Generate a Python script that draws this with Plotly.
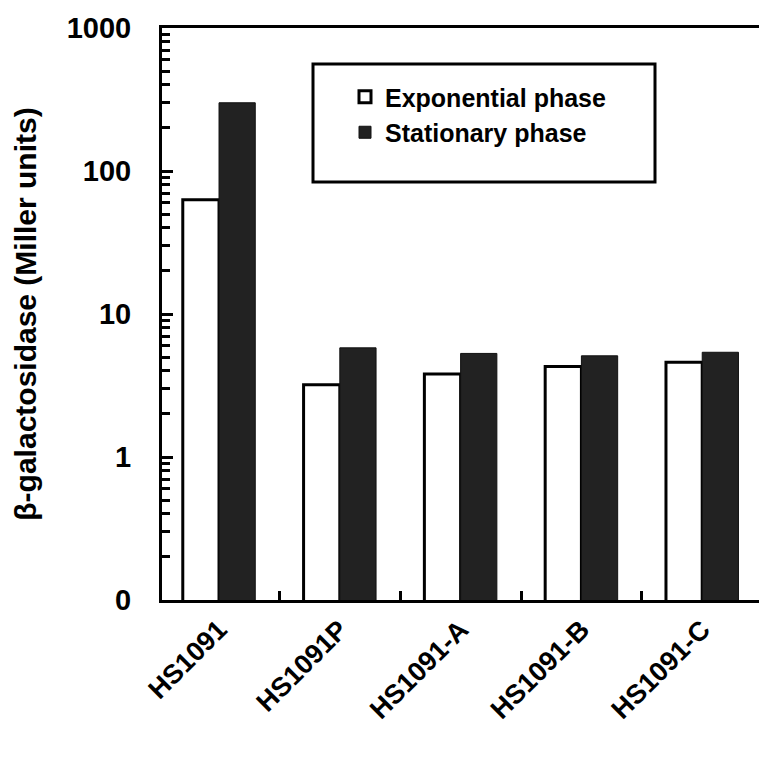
import plotly.graph_objects as go

categories = ["HS1091", "HS1091P", "HS1091-A", "HS1091-B", "HS1091-C"]
exponential = [63, 3.2, 3.8, 4.3, 4.6]
stationary = [300, 5.8, 5.3, 5.1, 5.4]
series_names = ["Exponential phase", "Stationary phase"]
y_tick_vals = [0.1, 1, 10, 100, 1000]
y_tick_text = ["0", "1", "10", "100", "1000"]
minor_multipliers = [2, 3, 4, 5, 6, 7, 8, 9]
decades = [0.1, 1, 10, 100]

FONT = "Arial, 'Liberation Sans', sans-serif"

minor_vals = [d * m for d in decades for m in minor_multipliers]

fig = go.Figure()
fig.add_trace(go.Bar(
    x=categories, y=exponential, name=series_names[0],
    marker=dict(color="white", line=dict(color="black", width=3)),
))
fig.add_trace(go.Bar(
    x=categories, y=stationary, name=series_names[1],
    marker=dict(color="#222222", line=dict(color="#111111", width=1)),
))

W, H = 759, 762
L, R, T, B = 162, 0, 28, 162
pw = W - L - R
ph = H - T - B

def px_x(p):
    return (p - L) / pw

def px_y(p):
    return (H - B - p) / ph

fig.update_layout(
    width=W, height=H,
    margin=dict(l=L, r=R, t=T, b=B, autoexpand=False),
    paper_bgcolor="white", plot_bgcolor="white",
    barmode="group", bargap=0.4, bargroupgap=0,
    font=dict(family=FONT, color="black", size=27, weight="bold"),
    showlegend=True,
    legend=dict(
        x=px_x(345), y=px_y(74), xanchor="left", yanchor="top",
        bgcolor="rgba(0,0,0,0)", borderwidth=0,
        font=dict(family=FONT, size=25, color="black", weight="bold"),
        traceorder="normal",
    ),
    shapes=[dict(
        type="rect", xref="paper", yref="paper",
        x0=px_x(313), x1=px_x(655), y0=px_y(182), y1=px_y(64),
        line=dict(color="black", width=3), fillcolor="rgba(0,0,0,0)",
    )],
)

fig.update_xaxes(
    range=[-0.472, 4.47],
    showline=True, linecolor="black", linewidth=3, mirror=True,
    ticks="inside", tickson="boundaries", ticklen=9, tickwidth=3, tickcolor="black",
    tickangle=-45, showgrid=False, zeroline=False,
    tickfont=dict(family=FONT, size=27, color="black", weight="bold"),
)
fig.update_yaxes(
    type="log", range=[-1, 3],
    showline=True, linecolor="black", linewidth=3, mirror=False,
    tickvals=y_tick_vals, ticktext=y_tick_text,
    ticks="inside", ticklen=11, tickwidth=3, tickcolor="black",
    minor=dict(tickvals=minor_vals, ticks="inside", ticklen=8, tickwidth=3, tickcolor="black", showgrid=False),
    showgrid=False, zeroline=False,
    ticklabelstandoff=22,
    tickfont=dict(family=FONT, size=29, color="black", weight="bold"),
    title=dict(text="\u03b2-galactosidase (Miller units)",
               font=dict(family=FONT, size=30, color="black", weight="bold"),
               standoff=22),
)

fig.write_html("out.html")
